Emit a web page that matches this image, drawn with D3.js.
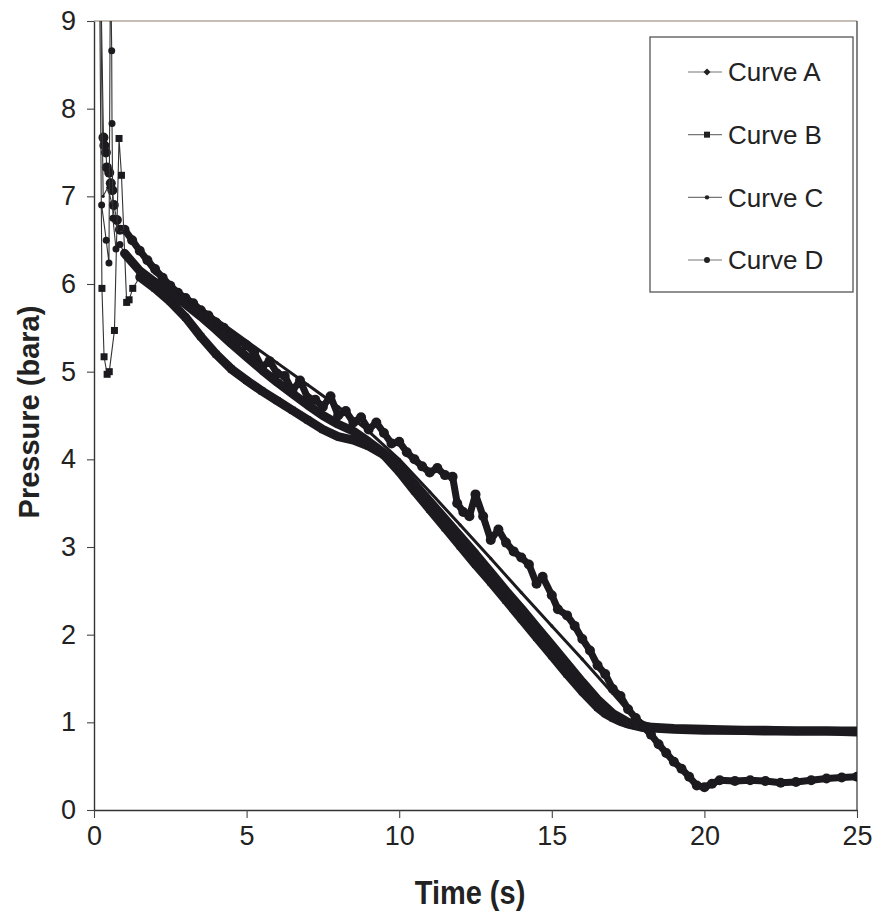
<!DOCTYPE html>
<html>
<head>
<meta charset="utf-8">
<script src="https://cdn.jsdelivr.net/npm/d3@7"></script>
<style>
  body { margin: 0; background: #fff; }
  svg text { font-family: "Liberation Sans", Arial, sans-serif; fill: #222; }
</style>
</head>
<body>
<div id="main"></div>
<script>
const width = 877;
const height = 918;

// time (s) and pressure (bara)
const timeA = [0.1, 0.31, 0.34, 0.39, 0.42, 0.5, 0.55, 0.6, 0.65, 0.75, 0.85, 1.0, 1.25, 1.5, 1.75, 2.0, 2.25, 2.5, 2.75, 3.0, 3.25, 3.5, 3.75, 4.0, 4.25, 4.5, 4.75, 5.0, 5.25, 5.5, 5.75, 6.0, 6.25, 6.5, 6.75, 7.0, 7.25, 7.5, 7.75, 8.0, 8.25, 8.5, 8.75, 9.0, 9.25, 9.5, 9.75, 10.0, 10.25, 10.5, 10.75, 11.0, 11.25, 11.5, 11.75, 11.9, 12.1, 12.3, 12.5, 12.75, 13.0, 13.25, 13.5, 13.75, 14.0, 14.25, 14.5, 14.7, 15.0, 15.2, 15.5, 15.75, 16.0, 16.25, 16.5, 16.75, 17.0, 17.25, 17.5, 17.75, 18.0, 18.25, 18.5, 18.75, 19.0, 19.25, 19.5, 19.75, 20.0, 20.25, 20.5, 21.0, 21.5, 22.0, 22.5, 23.0, 23.5, 24.0, 24.5, 25.0];
const pressureA = [12, 7.67, 7.58, 7.5, 7.33, 7.27, 7.15, 7.07, 6.9, 6.73, 6.62, 6.62, 6.5, 6.38, 6.27, 6.17, 6.07, 5.98, 5.9, 5.84, 5.78, 5.7, 5.64, 5.56, 5.5, 5.42, 5.35, 5.3, 5.22, 5.05, 5.12, 4.98, 4.95, 4.78, 4.9, 4.7, 4.68, 4.6, 4.72, 4.5, 4.55, 4.42, 4.48, 4.34, 4.42, 4.3, 4.18, 4.2, 4.08, 4.0, 3.92, 3.85, 3.9, 3.82, 3.8, 3.5, 3.4, 3.35, 3.6, 3.35, 3.08, 3.2, 3.05, 2.95, 2.88, 2.8, 2.58, 2.66, 2.45, 2.29, 2.22, 2.1, 1.95, 1.82, 1.65, 1.55, 1.38, 1.3, 1.15, 1.05, 0.95, 0.86, 0.75, 0.65, 0.55, 0.47, 0.38, 0.28, 0.26, 0.3, 0.34, 0.33, 0.34, 0.33, 0.31, 0.32, 0.34, 0.36, 0.37, 0.38];

const timeB = [0.15, 0.26, 0.33, 0.43, 0.5, 0.67, 0.82, 0.9, 1.07, 1.15, 1.27, 1.5, 2, 2.5, 3, 3.5, 4, 4.5, 5, 5.5, 6, 6.5, 7, 7.5, 8, 8.5, 9, 9.5, 10, 10.5, 11, 11.5, 12, 12.5, 13, 13.5, 14, 14.5, 15, 15.5, 16, 16.5, 16.75, 17, 17.25, 17.5, 17.75, 18, 19, 20, 21, 22, 23, 24, 25];
const pressureB = [11, 5.95, 5.17, 4.97, 5.0, 5.47, 7.66, 7.24, 5.79, 5.82, 5.95, 6.08, 5.95, 5.8, 5.62, 5.4, 5.2, 5.03, 4.9, 4.78, 4.67, 4.56, 4.45, 4.34, 4.26, 4.22, 4.15, 4.05, 3.86, 3.64, 3.43, 3.22, 3.01, 2.8, 2.6, 2.39, 2.18, 1.97, 1.76, 1.55, 1.35, 1.17, 1.1, 1.05, 1.01, 0.98, 0.96, 0.94, 0.92, 0.91, 0.91, 0.9, 0.9, 0.9, 0.89];

const timeC = [0.2, 0.3, 0.45, 0.6, 0.7, 0.8, 1.0, 1.5, 2, 3, 4, 5, 6, 7, 8, 9, 10, 11, 12, 13, 14, 15, 16, 17, 17.5, 18, 18.5, 19, 20, 21, 22, 23, 24, 25];
const pressureC = [9.8, 7.0, 7.1, 6.9, 6.7, 6.6, 6.6, 6.35, 6.12, 5.85, 5.6, 5.35, 5.1, 4.85, 4.6, 4.32, 4.0, 3.63, 3.25, 2.87, 2.48, 2.1, 1.72, 1.33, 1.13, 1.0, 0.95, 0.93, 0.92, 0.91, 0.91, 0.9, 0.9, 0.9];

const timeD = [0.25, 0.4, 0.49, 0.54, 0.58, 0.59, 0.62, 0.72, 0.85, 1.0, 1.5, 2, 2.5, 3, 3.5, 4, 4.5, 5, 5.5, 6, 6.5, 7, 7.5, 8, 8.5, 9, 9.5, 10, 10.5, 11, 11.5, 12, 12.5, 13, 13.5, 14, 14.5, 15, 15.5, 16, 16.5, 16.75, 17, 17.25, 17.5, 17.75, 18, 19, 20, 21, 22, 23, 24, 25];
const pressureD = [6.9, 6.5, 6.24, 9.8, 8.66, 7.83, 6.75, 6.4, 6.45, 6.35, 6.15, 6.02, 5.9, 5.77, 5.63, 5.48, 5.32, 5.17, 5.02, 4.88, 4.75, 4.62, 4.5, 4.4, 4.32, 4.2, 4.07, 3.92, 3.72, 3.52, 3.32, 3.12, 2.92, 2.71, 2.5, 2.3, 2.09, 1.88, 1.67, 1.46, 1.26, 1.18, 1.1, 1.05, 1.0, 0.97, 0.95, 0.93, 0.92, 0.91, 0.91, 0.9, 0.9, 0.9];

const seriesNames = ["Curve A", "Curve B", "Curve C", "Curve D"];
const xTicks = [0, 5, 10, 15, 20, 25];
const yTicks = [0, 1, 2, 3, 4, 5, 6, 7, 8, 9];

const series = [
  { name: seriesNames[0], t: timeA, p: pressureA, shape: "diamond", band: 7, size: 5, from: 0.9 },
  { name: seriesNames[1], t: timeB, p: pressureB, shape: "square", band: 9, size: 3.5, from: 1.4 },
  { name: seriesNames[2], t: timeC, p: pressureC, shape: "dot", band: 3, size: 1.6, from: 0.9 },
  { name: seriesNames[3], t: timeD, p: pressureD, shape: "circle", band: 9, size: 3.5, from: 0.9 },
];

const x = d3.scaleLinear().domain([0, 25]).range([94, 857]);
const y = d3.scaleLinear().domain([0, 9]).range([810, 21]);

const svg = d3.select("#main").append("svg").attr("width", width).attr("height", height);

svg.append("defs").append("clipPath").attr("id", "plot-clip")
  .append("rect")
  .attr("x", x(0)).attr("y", y(9))
  .attr("width", x(25) - x(0)).attr("height", y(0) - y(9));

// plot frame (top and right)
svg.append("line")
  .attr("x1", x(0)).attr("x2", x(25)).attr("y1", y(9)).attr("y2", y(9))
  .attr("stroke", "#8a7f70").attr("stroke-width", 1.2);
svg.append("line")
  .attr("x1", x(25)).attr("x2", x(25)).attr("y1", y(9)).attr("y2", y(0))
  .attr("stroke", "#333").attr("stroke-width", 1.2);

const plot = svg.append("g").attr("clip-path", "url(#plot-clip)");

const line = d3.line().x((d) => x(d[0])).y((d) => y(d[1]));

series.forEach((s) => {
  const pts = s.t.map((t, i) => [t, s.p[i]]);
  const g = plot.append("g");

  // thin connecting line
  g.append("path")
    .attr("d", line(pts))
    .attr("fill", "none")
    .attr("stroke", "#333")
    .attr("stroke-width", 1.1);

  // dense markers in the reference read as a thick band after the start-up spikes
  g.append("path")
    .attr("d", line(pts.filter((d) => d[0] >= s.from)))
    .attr("fill", "none")
    .attr("stroke", "#1c1a1e")
    .attr("stroke-width", s.band)
    .attr("stroke-linejoin", "round")
    .attr("stroke-linecap", "round");

  const marks = g.selectAll(".mark").data(pts).enter();
  if (s.shape === "square") {
    marks.append("rect")
      .attr("x", (d) => x(d[0]) - s.size)
      .attr("y", (d) => y(d[1]) - s.size)
      .attr("width", s.size * 2)
      .attr("height", s.size * 2)
      .attr("fill", "#1c1a1e");
  } else {
    marks.append("circle")
      .attr("cx", (d) => x(d[0]))
      .attr("cy", (d) => y(d[1]))
      .attr("r", s.size)
      .attr("fill", "#1c1a1e");
  }
});

// axes
const yAxis = svg.append("g")
  .attr("transform", `translate(${x(0)},0)`)
  .call(d3.axisLeft(y).tickValues(yTicks).tickSize(7).tickSizeOuter(0).tickPadding(11));
const xAxis = svg.append("g")
  .attr("transform", `translate(0,${y(0)})`)
  .call(d3.axisBottom(x).tickValues(xTicks).tickSize(8).tickSizeOuter(0).tickPadding(8));

[yAxis, xAxis].forEach((ax) => {
  ax.select(".domain").attr("stroke", "#333").attr("stroke-width", 1.4);
  ax.selectAll(".tick line").attr("stroke", "#444").attr("stroke-width", 1.1);
  ax.selectAll(".tick text")
    .style("font-family", "'Liberation Sans', Arial, sans-serif")
    .style("font-size", "27px")
    .attr("fill", "#222");
});

svg.append("text")
  .attr("transform", "translate(470,904) scale(1,1.12)")
  .attr("text-anchor", "middle")
  .style("font-size", "29px")
  .style("font-weight", "bold")
  .text("Time (s)");

svg.append("text")
  .attr("transform", "translate(39,412) rotate(-90)")
  .attr("text-anchor", "middle")
  .style("font-size", "29px")
  .style("font-weight", "bold")
  .text("Pressure (bara)");

// legend
const legend = svg.append("g").attr("id", "legend");
legend.append("rect")
  .attr("x", 650).attr("y", 37)
  .attr("width", 203).attr("height", 255)
  .attr("fill", "#fff")
  .attr("stroke", "#555")
  .attr("stroke-width", 1.3);

const legendY = d3.scalePoint().domain(seriesNames).range([72, 260]);

series.forEach((s) => {
  const ly = legendY(s.name);
  const item = legend.append("g");
  item.append("line")
    .attr("x1", 688).attr("x2", 722).attr("y1", ly).attr("y2", ly)
    .attr("stroke", "#777").attr("stroke-width", 1.1);
  if (s.shape === "square") {
    item.append("rect").attr("x", 704).attr("y", ly - 3).attr("width", 6).attr("height", 6).attr("fill", "#222");
  } else if (s.shape === "diamond") {
    item.append("path").attr("d", `M707,${ly - 3.5}L710.5,${ly}L707,${ly + 3.5}L703.5,${ly}Z`).attr("fill", "#222");
  } else {
    item.append("circle").attr("cx", 707).attr("cy", ly).attr("r", s.shape === "dot" ? 2.2 : 3).attr("fill", "#222");
  }
  item.append("text")
    .attr("x", 728).attr("y", ly)
    .attr("dy", "0.36em")
    .style("font-size", "26px")
    .text(s.name);
});
</script>
</body>
</html>
